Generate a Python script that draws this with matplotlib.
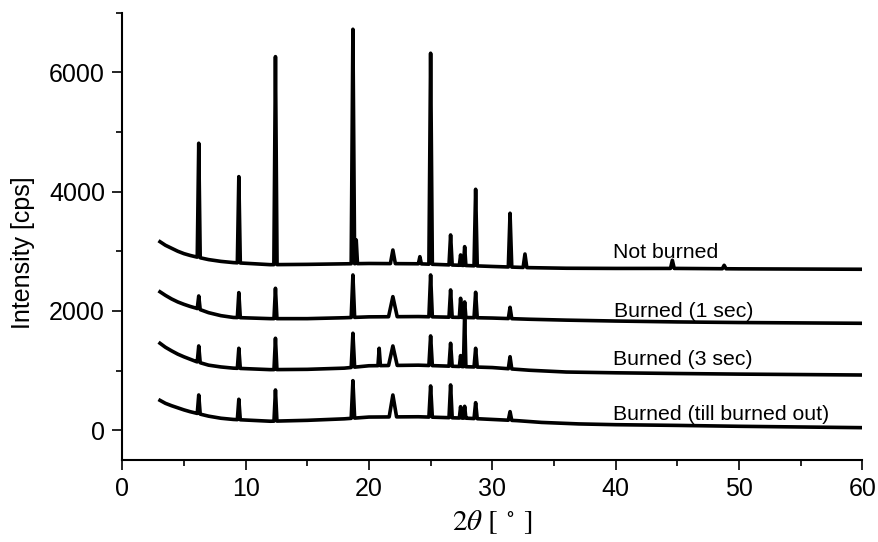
import numpy as np
import matplotlib.pyplot as plt

plt.rcParams['font.family'] = ['Liberation Sans', 'DejaVu Sans']
plt.rcParams['mathtext.fontset'] = 'stix'

# baseline read at a few 2theta positions, per sample
nb_base_x = [3.06, 3.5, 4, 4.5, 5, 5.5, 6, 7, 8, 9, 12, 15, 20, 24, 30, 33, 36, 40, 45, 50, 60]
nb_base_y = [3160, 3100, 3050, 3000, 2960, 2930, 2905, 2860, 2830, 2810, 2775, 2780, 2795, 2790, 2745, 2725, 2715, 2712, 2712, 2705, 2698]
s1_base_x = [3.06, 3.5, 4, 4.5, 5, 5.5, 6, 7, 8, 9, 12, 15, 18, 20, 24, 30, 33, 36, 40, 45, 50, 60]
s1_base_y = [2320, 2260, 2200, 2150, 2110, 2075, 2045, 1970, 1920, 1890, 1870, 1870, 1885, 1900, 1905, 1880, 1860, 1845, 1830, 1815, 1805, 1792]
s3_base_x = [3.06, 3.5, 4, 4.5, 5, 5.5, 6, 7, 8, 9, 12, 15, 18, 20, 24, 30, 33, 36, 40, 45, 50, 60]
s3_base_y = [1457, 1390, 1330, 1275, 1230, 1190, 1150, 1090, 1060, 1040, 1015, 1020, 1040, 1080, 1090, 1050, 1005, 975, 962, 950, 940, 925]
so_base_x = [3.06, 3.5, 4, 4.5, 5, 5.5, 6, 7, 8, 9, 12, 15, 18, 20, 24, 28, 32, 34, 37, 40, 45, 50, 60]
so_base_y = [500, 450, 410, 375, 340, 310, 285, 235, 200, 180, 150, 165, 190, 220, 225, 200, 160, 130, 105, 92, 80, 65, 42]

# peaks: position, apex intensity, half width
nb_pk_x = [6.2, 9.45, 12.42, 18.7, 18.97, 21.94, 24.13, 25.0, 26.62, 27.43, 27.76, 28.65, 31.44, 32.65, 44.6, 48.8]
nb_pk_y = [4811, 4251, 6263, 6722, 3189, 3021, 2909, 6320, 3273, 2938, 3077, 4039, 3637, 2954, 2849, 2765]
nb_pk_w = [0.12, 0.12, 0.13, 0.14, 0.1, 0.2, 0.12, 0.14, 0.13, 0.1, 0.1, 0.13, 0.14, 0.15, 0.15, 0.15]

s1_pk_x = [6.2, 9.45, 12.42, 18.7, 21.94, 25.0, 26.62, 27.43, 27.76, 28.65, 31.44]
s1_pk_y = [2250, 2306, 2379, 2602, 2239, 2602, 2351, 2211, 2150, 2312, 2060]
s1_pk_w = [0.12, 0.12, 0.12, 0.14, 0.35, 0.14, 0.13, 0.1, 0.1, 0.13, 0.14]

s3_pk_x = [6.2, 9.45, 12.42, 18.7, 20.83, 21.94, 25.0, 26.62, 27.43, 27.76, 28.65, 31.44]
s3_pk_y = [1412, 1373, 1541, 1625, 1373, 1412, 1580, 1457, 1250, 1960, 1373, 1232]
s3_pk_w = [0.12, 0.12, 0.12, 0.14, 0.1, 0.35, 0.14, 0.13, 0.1, 0.1, 0.13, 0.14]

so_pk_x = [6.2, 9.45, 12.42, 18.7, 21.94, 25.0, 26.62, 27.43, 27.76, 28.65, 31.44]
so_pk_y = [590, 518, 674, 830, 590, 741, 758, 394, 400, 461, 311]
so_pk_w = [0.12, 0.12, 0.12, 0.14, 0.3, 0.14, 0.13, 0.1, 0.1, 0.13, 0.14]

labels = ['Not burned', 'Burned (1 sec)', 'Burned (3 sec)', 'Burned (till burned out)']
label_x = [39.8, 39.9, 39.8, 39.8]
label_y = [2890, 1903, 1093, 171]


def trace(bx, by, px, py, pw):
    pts = []
    for x, y in zip(bx, by):
        if not any(abs(x - p) < w for p, w in zip(px, pw)):
            pts.append((x, y))
    for p, top, w in zip(px, py, pw):
        pts.append((p - w, np.interp(p - w, bx, by)))
        pts.append((p, top))
        pts.append((p + w, np.interp(p + w, bx, by)))
    pts.sort()
    M = np.array(pts)
    return M[:, 0], M[:, 1]


fig = plt.figure(figsize=(8.79, 5.42), dpi=100)
ax = fig.add_axes([0.1391, 0.1513, 0.8419, 0.8253])

series = [(nb_base_x, nb_base_y, nb_pk_x, nb_pk_y, nb_pk_w),
          (s1_base_x, s1_base_y, s1_pk_x, s1_pk_y, s1_pk_w),
          (s3_base_x, s3_base_y, s3_pk_x, s3_pk_y, s3_pk_w),
          (so_base_x, so_base_y, so_pk_x, so_pk_y, so_pk_w)]
for s in series:
    x, y = trace(*s)
    ax.plot(x, y, color='black', lw=2.6)

for t, lx, ly in zip(labels, label_x, label_y):
    ax.text(lx, ly, t, fontsize=15.3, va='baseline', ha='left')

ax.set_xlim(0, 60)
ax.set_ylim(-500, 7000)
ax.set_xticks([0, 10, 20, 30, 40, 50, 60])
ax.set_xticks(np.arange(5, 60, 10), minor=True)
ax.set_yticks([0, 2000, 4000, 6000])
ax.set_yticks([1000, 3000, 5000, 7000], minor=True)
for side in ['top', 'right']:
    ax.spines[side].set_visible(False)
for side in ['left', 'bottom']:
    ax.spines[side].set_linewidth(1.5)
ax.tick_params(which='major', direction='out', length=7.5, width=1.2, labelsize=18, pad=5)
ax.tick_params(which='minor', direction='out', length=4, width=1.2)

ax.set_ylabel('Intensity [cps]', fontsize=18)
ax.yaxis.set_label_coords(-0.118, 0.463)
ax.set_xlabel(r'$2\theta\ [\;^\circ\;]$', fontsize=21, family=['Liberation Serif'])
ax.xaxis.set_label_coords(0.5, -0.14)
ax.xaxis.label.set_va('center')

fig.savefig('out.png', dpi=100)
